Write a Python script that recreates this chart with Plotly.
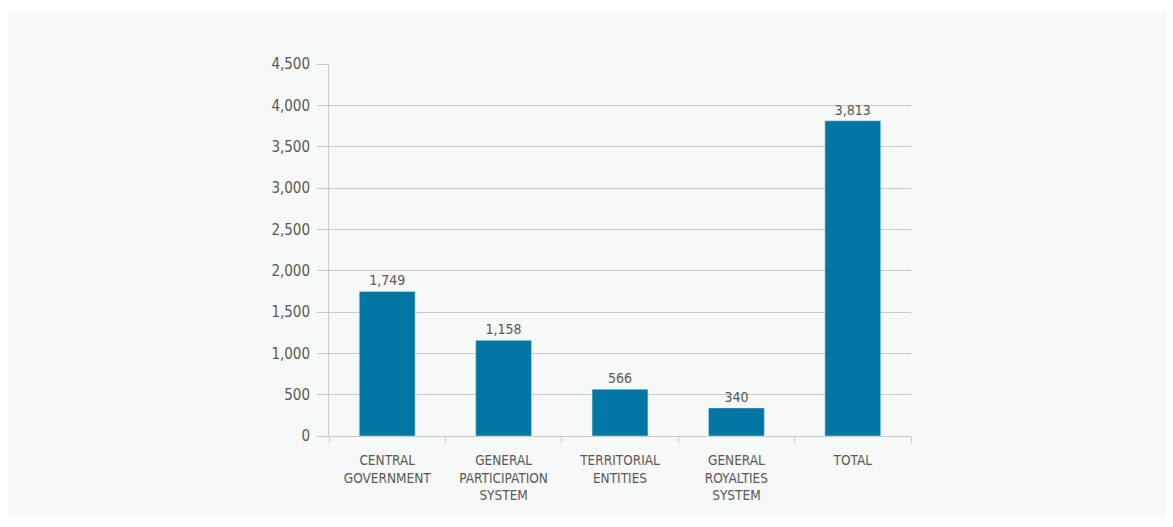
import plotly.graph_objects as go

categories = ["CENTRAL<br>GOVERNMENT", "GENERAL<br>PARTICIPATION<br>SYSTEM", "TERRITORIAL<br>ENTITIES",
              "GENERAL<br>ROYALTIES<br>SYSTEM", "TOTAL"]
values = [1749, 1158, 566, 340, 3813]
labels = [f"{v:,}" for v in values]

FONT = "DejaVu Sans Condensed, Liberation Sans Narrow, Roboto, sans-serif"
TXT = "#595959"
GRID = "#c9c9c9"

fig = go.Figure(go.Bar(
    x=categories, y=values, text=labels, textposition="outside",
    textfont=dict(family=FONT, size=14, color=TXT),
    marker=dict(color="#0077a3"), cliponaxis=False, hoverinfo="skip",
))

W, H = 1173, 527
l, r, t, b = 329, W - 911, 64, H - 436
pw, ph = W - l - r, H - t - b

def px(xp):
    return (xp - l) / pw

def py(yp):
    return (H - b - yp) / ph

fig.update_layout(
    width=W, height=H,
    margin=dict(l=l, r=r, t=t, b=b),
    paper_bgcolor="white", plot_bgcolor="#f7f8f8",
    bargap=0.52, showlegend=False,
    font=dict(family=FONT, color=TXT),
    shapes=[dict(type="rect", xref="paper", yref="paper", layer="below",
                 x0=px(8), x1=px(1166), y0=py(517), y1=py(12),
                 fillcolor="#f7f8f8", line=dict(width=0))],
)
fig.update_yaxes(
    range=[0, 4500], dtick=500, tickformat=",", showgrid=True, gridcolor=GRID, gridwidth=1,
    ticks="outside", ticklen=11, tickcolor=GRID, showline=True, linecolor=GRID,
    ticklabelstandoff=4,
    tickfont=dict(family=FONT, size=15, color=TXT), zeroline=False, fixedrange=True,
)
fig.update_xaxes(
    showline=True, linecolor=GRID, ticks="outside", tickson="boundaries", ticklen=6,
    tickcolor=GRID, ticklabelstandoff=12,
    tickfont=dict(family=FONT, size=13.5, color=TXT), fixedrange=True,
)

fig.write_html("out.html")
